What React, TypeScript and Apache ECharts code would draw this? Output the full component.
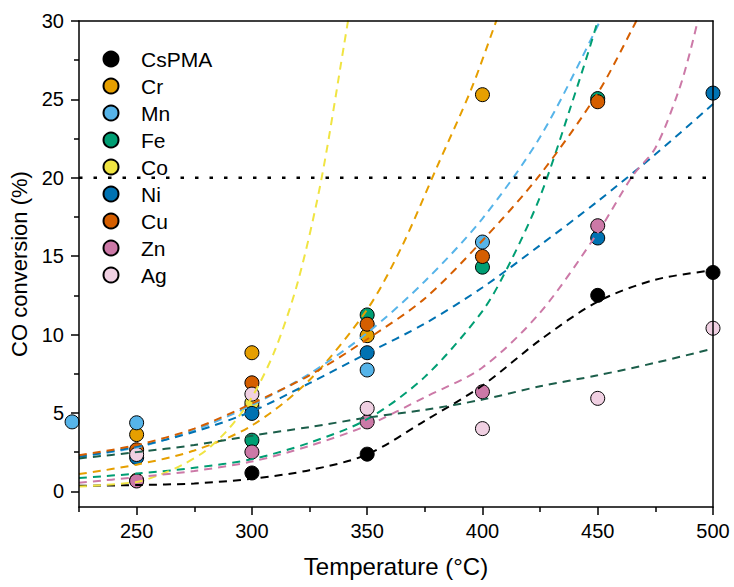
import React, { useEffect, useRef } from "react";
import * as echarts from "echarts";

const FONT = "'Liberation Sans', Arial, Helvetica, sans-serif";

const seriesNames = ["CsPMA", "Cr", "Mn", "Fe", "Co", "Ni", "Cu", "Zn", "Ag"];
const markerColors = ["#000000", "#E69F00", "#56B4E9", "#009E73", "#F0E442", "#0072B2", "#D55E00", "#CC79A7", "#F0D0E2"];
const fitColors = ["#000000", "#E69F00", "#56B4E9", "#009E73", "#F0E442", "#0072B2", "#D55E00", "#CC79A7", "#1B5E4A"];

const xMajorTicks = [250, 300, 350, 400, 450, 500];
const xMinorTicks = [225, 275, 325, 375, 425, 475];
const yMajorTicks = [0, 5, 10, 15, 20, 25, 30];
const yMinorTicks = [2.5, 7.5, 12.5, 17.5, 22.5, 27.5];
const thresholdLine = [[225, 20], [500, 20]];

// measured points [temperature, conversion]
const pointsCsPMA = [[300, 1.17], [350, 2.37], [450, 12.5], [500, 13.96]];
const pointsCr = [[250, 3.62], [300, 8.84], [350, 9.93], [400, 25.3]];
const pointsMn = [[222, 4.43], [250, 4.37], [300, 5.4], [350, 7.74], [400, 15.9]];
const pointsFe = [[300, 3.26], [350, 11.25], [400, 14.3], [450, 25.05]];
const pointsCo = [[250, 0.7], [300, 5.65]];
const pointsNi = [[250, 2.15], [300, 4.97], [350, 8.84], [450, 16.16], [500, 25.4]];
const pointsCu = [[250, 2.65], [300, 6.92], [350, 10.66], [400, 14.98], [450, 24.85]];
const pointsZn = [[250, 0.66], [300, 2.51], [350, 4.43], [400, 6.35], [450, 16.94]];
const pointsAg = [[250, 2.35], [300, 6.2], [350, 5.29], [400, 4.0], [450, 5.93], [500, 10.4]];

// fitted curves
const fitCsPMA = [[225, 0.35], [250, 0.4], [275, 0.5], [300, 0.8], [325, 1.35], [350, 2.35], [375, 4.5], [400, 6.75], [425, 9.65], [450, 12.1], [475, 13.5], [500, 14.1]];
const fitCr = [[225, 1.1], [250, 1.7], [275, 2.6], [300, 4.2], [325, 7.1], [350, 11.6], [365, 15.6], [380, 20.6], [395, 25.6], [405, 29.6], [412, 32.5]];
const fitMn = [[225, 2.2], [250, 2.8], [275, 3.9], [300, 5.5], [325, 7.5], [350, 10.1], [375, 13.4], [400, 17.4], [425, 22.6], [450, 29.7], [455, 31.5]];
const fitFe = [[225, 0.85], [250, 1.13], [275, 1.5], [300, 2.05], [325, 3.1], [350, 4.6], [375, 7.3], [400, 11.5], [412, 14.6], [425, 18.8], [438, 24.4], [450, 30], [455, 33]];
const fitCo = [[225, 0.3], [250, 0.6], [260, 1.05], [270, 1.7], [280, 2.6], [290, 4.0], [300, 6.0], [310, 9.0], [320, 13.4], [330, 19.8], [340, 28.5], [345, 33]];
const fitNi = [[225, 2.2], [250, 2.85], [275, 3.8], [300, 5.1], [325, 6.9], [350, 8.8], [375, 10.7], [400, 13.0], [425, 15.7], [450, 18.5], [475, 21.5], [500, 24.7]];
const fitCu = [[225, 2.3], [250, 2.95], [275, 4.0], [300, 5.6], [325, 7.4], [350, 9.7], [375, 12.3], [400, 16.0], [425, 20.2], [450, 25.4], [465, 29.5], [470, 31]];
const fitZn = [[225, 0.55], [250, 0.9], [275, 1.3], [300, 1.9], [325, 2.9], [350, 4.2], [375, 6.0], [400, 7.9], [425, 11.4], [450, 16.5], [465, 20.1], [475, 21.9], [485, 25.5], [490, 28.0], [495, 31]];
const fitAg = [[225, 2.1], [250, 2.5], [275, 2.95], [300, 3.55], [325, 4.1], [350, 4.7], [375, 5.2], [400, 5.85], [425, 6.7], [450, 7.4], [475, 8.2], [500, 9.1]];

const pointSets = [pointsCsPMA, pointsCr, pointsMn, pointsFe, pointsCo, pointsNi, pointsCu, pointsZn, pointsAg];
const fitSets = [fitCsPMA, fitCr, fitMn, fitFe, fitCo, fitNi, fitCu, fitZn, fitAg];

export default function App() {
  const ref = useRef<HTMLDivElement>(null);
  useEffect(() => {
    if (!ref.current) return;
    const chart = echarts.init(ref.current, null, { renderer: "svg" });
    const axisLineStyle = { color: "#000", width: 1.5 };
    const scatterSeries = seriesNames.map((name, i) => ({
      name,
      type: "scatter",
      data: pointSets[i],
      symbol: "circle",
      symbolSize: 14,
      clip: false,
      z: 2,
      itemStyle: { color: markerColors[i], borderColor: "#000", borderWidth: 1, opacity: 1 },
    }));
    const fitSeries = seriesNames.map((name, i) => ({
      name: name + " fit",
      type: "line",
      data: fitSets[i],
      smooth: 0.3,
      showSymbol: false,
      symbol: "none",
      clip: true,
      z: 3,
      silent: true,
      lineStyle: { color: fitColors[i], width: 2, type: [8, 6] },
    }));
    const option = {
      animation: false,
      grid: { left: 79, right: 21, top: 21, bottom: 80, containLabel: false },
      legend: {
        data: seriesNames,
        orient: "vertical",
        left: 97.5,
        top: 43.5,
        itemWidth: 15,
        itemHeight: 15,
        itemGap: 6,
        icon: "circle",
        textStyle: { fontSize: 21, color: "#000", fontFamily: FONT, padding: [0, 0, 0, 17.5] },
      },
      xAxis: [
        {
          type: "value", min: 225, max: 500, position: "bottom", z: 4,
          axisLine: { show: true, onZero: false, lineStyle: axisLineStyle },
          axisTick: { show: true, customValues: xMajorTicks, length: 8, lineStyle: axisLineStyle },
          axisLabel: { show: true, customValues: xMajorTicks, fontSize: 20, color: "#000", margin: 14, fontFamily: FONT },
          splitLine: { show: false },
          name: "Temperature (°C)", nameLocation: "middle", nameGap: 47,
          nameTextStyle: { fontSize: 24, color: "#000", fontFamily: FONT },
        },
        {
          type: "value", min: 225, max: 500, position: "bottom", z: 4,
          axisLine: { show: false, onZero: false },
          axisTick: { show: true, customValues: xMinorTicks, length: 5, lineStyle: axisLineStyle },
          axisLabel: { show: false },
          splitLine: { show: false },
        },
        {
          type: "value", min: 225, max: 500, position: "top", z: 4,
          axisLine: { show: true, onZero: false, lineStyle: axisLineStyle },
          axisTick: { show: false },
          axisLabel: { show: false },
          splitLine: { show: false },
        },
      ],
      yAxis: [
        {
          type: "value", min: -1, max: 30, position: "left", z: 4,
          axisLine: { show: true, onZero: false, lineStyle: axisLineStyle },
          axisTick: { show: true, customValues: yMajorTicks, length: 8, lineStyle: axisLineStyle },
          axisLabel: { show: true, customValues: yMajorTicks, fontSize: 20, color: "#000", margin: 15, fontFamily: FONT },
          splitLine: { show: false },
          name: "CO conversion (%)", nameLocation: "middle", nameGap: 43,
          nameTextStyle: { fontSize: 22, color: "#000", fontFamily: FONT },
        },
        {
          type: "value", min: -1, max: 30, position: "left", z: 4,
          axisLine: { show: false, onZero: false },
          axisTick: { show: true, customValues: yMinorTicks, length: 5, lineStyle: axisLineStyle },
          axisLabel: { show: false },
          splitLine: { show: false },
        },
        {
          type: "value", min: -1, max: 30, position: "right", z: 4,
          axisLine: { show: true, onZero: false, lineStyle: axisLineStyle },
          axisTick: { show: false },
          axisLabel: { show: false },
          splitLine: { show: false },
        },
      ],
      series: [
        ...scatterSeries,
        ...fitSeries,
        {
          name: "20% level",
          type: "line",
          data: thresholdLine,
          symbol: "none",
          silent: true,
          z: 3,
          lineStyle: { color: "#000", width: 2.5, type: [3.5, 11] },
        },
      ],
    };
    chart.setOption(option as any);
    return () => chart.dispose();
  }, []);
  return (
    <div style={{ position: "fixed", left: 0, top: 0, width: 734, height: 587, background: "#fff" }}>
      <div ref={ref} style={{ width: 734, height: 587 }} />
    </div>
  );
}
